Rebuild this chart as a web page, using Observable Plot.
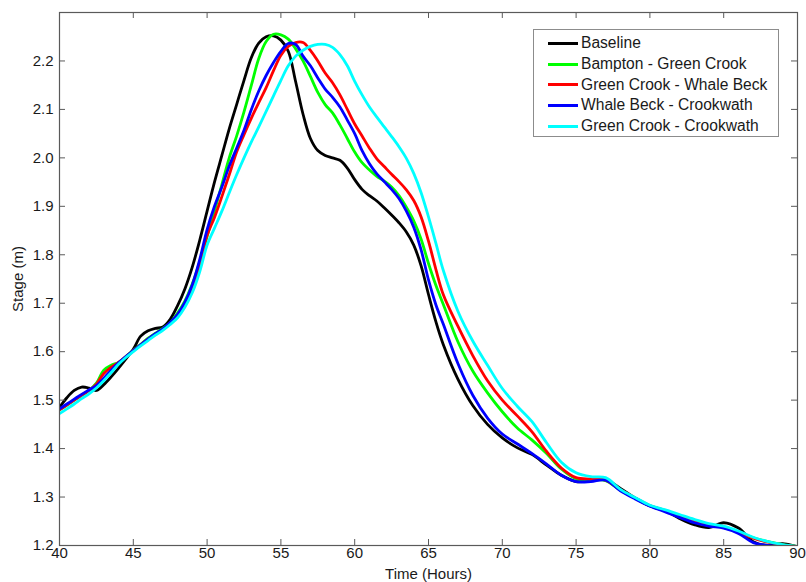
<!DOCTYPE html>
<html>
<head>
<meta charset="utf-8">
<script src="https://cdn.jsdelivr.net/npm/d3@7"></script>
<script src="https://cdn.jsdelivr.net/npm/@observablehq/plot@0.6"></script>
<style>
  html, body { margin: 0; padding: 0; background: #fff; }
  #wrap { position: relative; width: 806px; height: 582px; font-family: "Liberation Sans", Arial, sans-serif; }
  #legend { position: absolute; left: 533px; top: 29px; width: 246px; height: 108px; border: 1px solid #8c8c8c; background: #fff; box-sizing: border-box; padding-top: 3px; }
  .row { display: flex; align-items: center; height: 20.7px; font-size: 15.6px; color: #1a1a1a; white-space: nowrap; }
  .sw { width: 30px; height: 3px; margin-left: 14px; margin-right: 3px; flex: none; }
</style>
</head>
<body>
<div id="wrap"><div id="legend"></div></div>
<script>
const hours = [40,40.5,41,41.5,42,42.5,43,43.5,44,44.5,45,45.5,46,46.5,47,47.5,48,48.5,49,49.5,
  50,50.5,51,51.5,52,52.5,53,53.5,54,54.5,55,55.5,56,56.5,57,57.5,58,58.5,59,59.5,60,60.5,61,61.5,62,62.5,63,63.5,64,64.5,65,65.5,66,
  67,68,69,70,71,72,73,74,75,76,77,78,79,80,81,82,83,84,85,86,87,88,89,90];

const seriesNames = ["Baseline", "Bampton - Green Crook", "Green Crook - Whale Beck", "Whale Beck - Crookwath", "Green Crook - Crookwath"];
const seriesColors = ["#000000", "#00ff00", "#ff0000", "#0000ff", "#00ffff"];

const baseline = [1.485,1.505,1.52,1.527,1.525,1.52,1.532,1.548,1.566,1.585,1.605,1.632,1.643,1.648,1.651,1.667,1.695,1.73,1.775,1.83,
  1.89,1.95,2.005,2.06,2.11,2.16,2.207,2.237,2.25,2.252,2.243,2.22,2.157,2.09,2.04,2.015,2.005,2.0,1.995,1.979,1.955,1.935,1.922,1.911,1.897,1.882,1.866,1.847,1.82,1.777,1.718,1.662,1.615,
  1.543,1.489,1.45,1.422,1.402,1.388,1.366,1.345,1.332,1.334,1.336,1.318,1.298,1.282,1.272,1.256,1.243,1.237,1.247,1.236,1.208,1.2,1.204,1.197];

const bamptonGreenCrook = [1.48,1.49,1.5,1.51,1.52,1.535,1.562,1.572,1.578,1.59,1.603,1.615,1.628,1.638,1.648,1.66,1.68,1.705,1.74,1.785,
  1.838,1.89,1.945,2.0,2.045,2.095,2.15,2.205,2.24,2.255,2.254,2.245,2.225,2.2,2.168,2.135,2.11,2.093,2.068,2.04,2.012,1.99,1.975,1.962,1.952,1.94,1.922,1.898,1.87,1.832,1.782,1.737,1.698,
  1.62,1.56,1.515,1.476,1.443,1.418,1.39,1.358,1.338,1.336,1.334,1.314,1.298,1.282,1.272,1.262,1.252,1.243,1.237,1.228,1.216,1.208,1.202,1.198];

const greenCrookWhaleBeck = [1.48,1.49,1.5,1.51,1.52,1.533,1.555,1.568,1.578,1.59,1.602,1.614,1.626,1.636,1.646,1.658,1.675,1.698,1.73,1.78,
  1.84,1.877,1.92,1.965,2.012,2.048,2.082,2.114,2.145,2.18,2.212,2.23,2.238,2.238,2.222,2.2,2.175,2.155,2.13,2.1,2.07,2.045,2.02,1.998,1.982,1.966,1.951,1.934,1.912,1.878,1.828,1.77,1.718,
  1.652,1.592,1.54,1.5,1.468,1.435,1.394,1.36,1.34,1.337,1.335,1.315,1.298,1.282,1.272,1.262,1.252,1.243,1.238,1.228,1.215,1.207,1.201,1.198];

const whaleBeckCrookwath = [1.482,1.492,1.502,1.512,1.521,1.53,1.545,1.562,1.577,1.59,1.602,1.614,1.626,1.637,1.647,1.66,1.677,1.702,1.738,1.79,
  1.852,1.9,1.94,1.983,2.02,2.057,2.1,2.138,2.17,2.197,2.22,2.236,2.234,2.21,2.19,2.165,2.142,2.125,2.105,2.078,2.05,2.015,1.988,1.967,1.951,1.935,1.916,1.89,1.857,1.81,1.748,1.697,1.657,
  1.575,1.51,1.463,1.43,1.41,1.39,1.368,1.345,1.332,1.332,1.335,1.313,1.296,1.281,1.27,1.258,1.247,1.24,1.236,1.225,1.206,1.2,1.198,1.197];

const greenCrookCrookwath = [1.472,1.482,1.492,1.503,1.513,1.525,1.54,1.557,1.574,1.588,1.6,1.612,1.623,1.634,1.644,1.656,1.67,1.692,1.722,1.765,
  1.82,1.855,1.89,1.928,1.965,2.0,2.033,2.064,2.096,2.128,2.16,2.19,2.21,2.222,2.23,2.234,2.234,2.228,2.213,2.19,2.158,2.13,2.105,2.084,2.064,2.044,2.023,1.999,1.968,1.928,1.878,1.824,1.768,
  1.683,1.622,1.572,1.524,1.488,1.456,1.412,1.372,1.35,1.342,1.34,1.316,1.299,1.283,1.274,1.264,1.254,1.245,1.24,1.23,1.217,1.208,1.202,1.198];

const xTicks = [40,45,50,55,60,65,70,75,80,85,90];
const yTicks = [1.2,1.3,1.4,1.5,1.6,1.7,1.8,1.9,2.0,2.1,2.2];

const allSeries = [baseline, bamptonGreenCrook, greenCrookWhaleBeck, whaleBeckCrookwath, greenCrookCrookwath];
const data = [];
allSeries.forEach((vals, i) => {
  vals.forEach((v, j) => data.push({series: seriesNames[i], hour: hours[j], stage: v}));
});

const W = 806, H = 582, mL = 59, mR = 9, mT = 12, mB = 37;
const innerW = W - mL - mR, innerH = H - mT - mB;
const tickLen = 6;
const axisColor = "#5a5a5a";

const chart = Plot.plot({
  width: W, height: H,
  marginLeft: mL, marginRight: mR, marginTop: mT, marginBottom: mB,
  style: {fontFamily: "'Liberation Sans', Arial, sans-serif", fontSize: "15px", background: "#fff", color: "#1a1a1a"},
  x: {domain: [40, 90]},
  y: {domain: [1.2, 2.3]},
  color: {domain: seriesNames, range: seriesColors},
  marks: [
    Plot.line(data, {x: "hour", y: "stage", z: "series", stroke: "series", strokeWidth: 2.8, curve: "catmull-rom", clip: true}),
    Plot.tickX(xTicks, {x: d => d, insetTop: innerH - tickLen, stroke: axisColor}),
    Plot.tickX(xTicks, {x: d => d, insetBottom: innerH - tickLen, stroke: axisColor}),
    Plot.tickY(yTicks, {y: d => d, insetRight: innerW - tickLen, stroke: axisColor}),
    Plot.tickY(yTicks, {y: d => d, insetLeft: innerW - tickLen, stroke: axisColor}),
    Plot.frame({stroke: axisColor, strokeWidth: 1.2}),
    Plot.axisX(xTicks, {tickSize: 0, tickPadding: 2, fontSize: 15, fill: "#1a1a1a", label: "Time (Hours)", labelAnchor: "center", labelOffset: 33, labelArrow: "none"}),
    Plot.axisY(yTicks, {tickSize: 0, tickPadding: 6, fontSize: 15, fill: "#1a1a1a", tickFormat: d3.format(".1f"), label: "Stage (m)", labelAnchor: "center", labelOffset: 47, labelArrow: "none"})
  ]
});

const wrap = document.getElementById("wrap");
wrap.insertBefore(chart, wrap.firstChild);

const legend = document.getElementById("legend");
seriesNames.forEach((name, i) => {
  const row = document.createElement("div");
  row.className = "row";
  const sw = document.createElement("span");
  sw.className = "sw";
  sw.style.background = seriesColors[i];
  const label = document.createElement("span");
  label.textContent = name;
  row.appendChild(sw);
  row.appendChild(label);
  legend.appendChild(row);
});
</script>
</body>
</html>
